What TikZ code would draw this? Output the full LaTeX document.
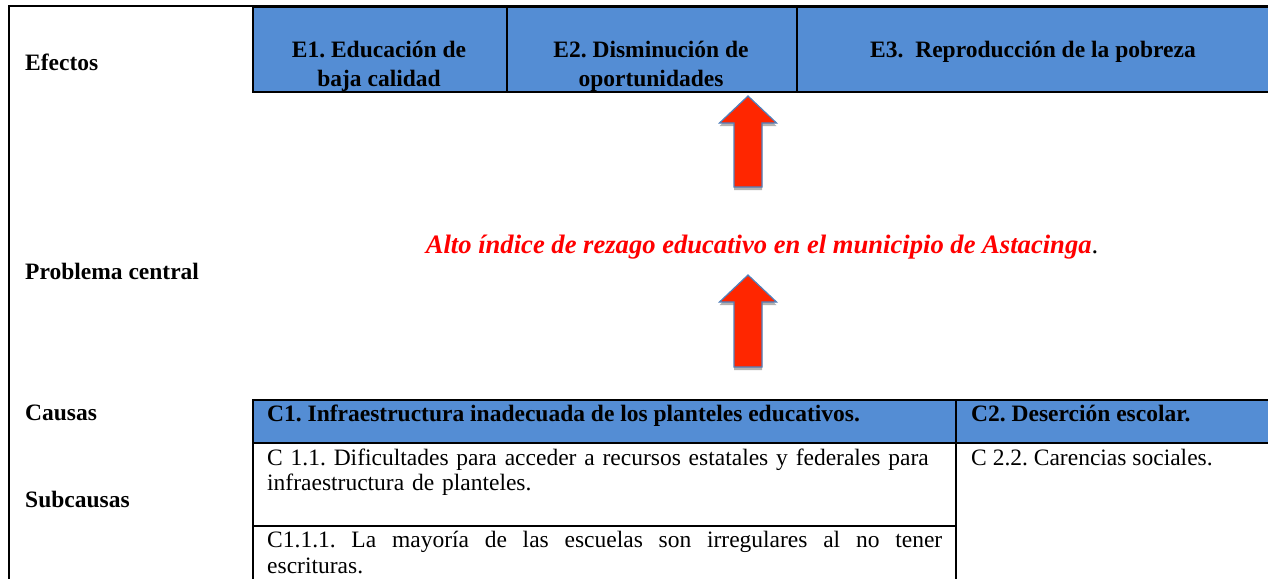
\documentclass[tikz,border=0pt]{standalone}
\usepackage{fontspec}
\setmainfont{Liberation Serif}
\usetikzlibrary{shadows,positioning}
\definecolor{tblblue}{RGB}{84,141,212}
\definecolor{arrowred}{RGB}{255,38,0}
\definecolor{arrowblue}{RGB}{79,129,189}
\definecolor{titlered}{RGB}{255,0,0}
\frenchspacing

\begin{document}
\begin{tikzpicture}[
  x=1pt,y=-1pt,
  font=\fontsize{23.5}{25}\selectfont,
  rowlabel/.style={font=\fontsize{23.5}{25}\selectfont\bfseries,anchor=west,inner sep=0pt},
  cell/.style={draw=black,line width=2pt,inner sep=0pt,anchor=north west},
  headcell/.style={cell,fill=tblblue},
  efftext/.style={font=\fontsize{23.5}{29}\selectfont\bfseries,align=center,anchor=base,inner sep=0pt},
  headtext/.style={font=\fontsize{23.5}{25}\selectfont\bfseries,anchor=base west,inner sep=0pt},
  celltext/.style={anchor=base west,inner sep=0pt,text width=675pt},
  blockarrow/.style={draw=arrowblue,fill=arrowred,line width=1.2pt,line join=miter,
    drop shadow={shadow xshift=0pt,shadow yshift=-3pt,opacity=.3,fill=black}}
]
\useasboundingbox (0,0) rectangle (1268,578);

% outer frame of the tree
\draw[line width=2pt] (1270,6) -- (9,6) -- (9,580);

% row labels
\node[rowlabel] (lbleff) at (25,62) {Efectos};
\node[rowlabel] (lblprob) at (25,271) {Problema central};
\node[rowlabel] (lblcaus) at (25,413) {Causas};
\node[rowlabel] (lblsub) at (25,499) {Subcausas};

% effects
\node[headcell,minimum width=254pt,minimum height=85pt] (e1) at (252,6) {};
\node[headcell,minimum width=290pt,minimum height=85pt] (e2) at (506,6) {};
\node[headcell,minimum width=474pt,minimum height=85pt] (e3) at (796,6) {};
\node[efftext] (e1t) at (379,86) {E1. Educación de\\baja calidad};
\node[efftext] (e2t) at (651,86) {E2. Disminución de\\oportunidades};
\node[efftext] (e3t) at (1033,57) {E3.\ \ Reproducción de la pobreza};

% central problem
\node[font=\fontsize{26.6}{30}\selectfont,anchor=base,inner sep=0pt] (problem) at (762,253)
  {\textcolor{titlered}{\textbf{\textit{Alto índice de rezago educativo en el municipio de Astacinga}}}.};

% block arrows: causes -> problem -> effects
\foreach \tipy/\boty in {96/187,275/367}{
  \draw[blockarrow] (748,\tipy) -- (776.5,\tipy+27) -- (762,\tipy+27) -- (762,\boty)
    -- (734,\boty) -- (734,\tipy+27) -- (719.5,\tipy+27) -- cycle;
}

% causes
\node[headcell,minimum width=703pt,minimum height=43pt] (c1) at (252,399) {};
\node[headcell,minimum width=315pt,minimum height=43pt] (c2) at (955,399) {};
\node[cell,minimum width=703pt,minimum height=83pt] (c11) at (252,442) {};
\node[cell,minimum width=703pt,minimum height=60pt] (c111) at (252,525) {};
\node[cell,minimum width=315pt,minimum height=143pt] (c22) at (955,442) {};
\node[headtext] (c1t) at (267,421) {C1. Infraestructura inadecuada de los planteles educativos.};
\node[headtext] (c2t) at (971,421) {C2. Deserción escolar.};
\node[celltext,align=left] (c11t) at (267,465)
  {C 1.1. Dificultades para acceder a recursos estatales y federales para\\infraestructura de planteles.};
\node[celltext,align=justify,font=\fontsize{23.5}{26}\selectfont] (c111t) at (267,547)
  {C1.1.1. La mayoría de las escuelas son irregulares al no tener\linebreak escrituras.};
\node[anchor=base west,inner sep=0pt] (c22t) at (971,465) {C 2.2. Carencias sociales.};
\end{tikzpicture}
\end{document}
